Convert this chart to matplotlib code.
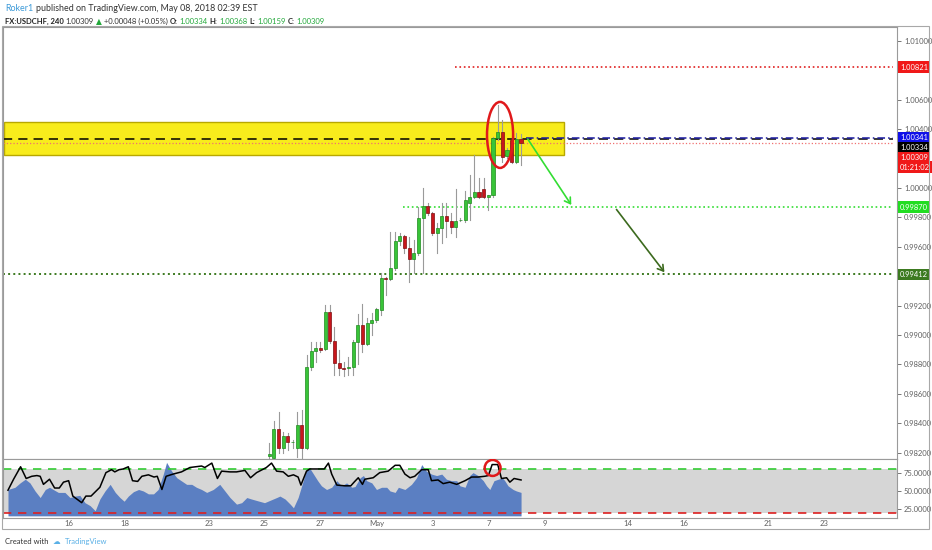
import matplotlib
matplotlib.use("Agg")
import matplotlib.pyplot as plt
from matplotlib.patches import Rectangle, Ellipse, FancyArrowPatch
from matplotlib.text import Annotation

plt.rcParams['font.family'] = ['Lato', 'DejaVu Sans']

# ---- data (USDCHF, 240 min) ----
first_bar = 56   # bars before this one sit below the visible price range
opens = [0.98175, 0.98165, 0.98358, 0.98234, 0.98315, 0.98270, 0.98234, 0.98390, 0.98234, 0.98785,
         0.98891, 0.98909, 0.98903, 0.99154, 0.98961, 0.98807, 0.98778, 0.98773, 0.98780, 0.98950,
         0.99068, 0.98939, 0.99080, 0.99102, 0.99170, 0.99386, 0.99379, 0.99454, 0.99641, 0.99671,
         0.99590, 0.99515, 0.99556, 0.99794, 0.99880, 0.99828, 0.99696, 0.99726, 0.99812, 0.99778,
         0.99737, 0.99780, 0.99782, 0.99896, 0.99941, 0.99975, 0.99991, 0.99941, 0.99952, 1.00338,
         1.00379, 1.00218, 1.00327, 1.00179, 1.00334]
highs = [0.98263, 0.98417, 0.98478, 0.98342, 0.98331, 0.98286, 0.98478, 0.98490, 0.98864, 0.98955,
         0.98955, 0.98955, 0.99204, 0.99204, 0.99052, 0.98898, 0.98819, 0.98852, 0.98966, 0.99143,
         0.99211, 0.99114, 0.99152, 0.99181, 0.99420, 0.99397, 0.99703, 0.99703, 0.99692, 0.99680,
         0.99669, 0.99646, 0.99873, 0.99998, 0.99896, 0.99839, 0.99760, 0.99896, 0.99896, 0.99828,
         0.99991, 0.99798, 0.99982, 1.00088, 1.00224, 1.00066, 1.00066, 0.99952, 1.00350, 1.00565,
         1.00463, 1.00272, 1.00349, 1.00372, 1.00368]
lows = [0.98160, 0.98150, 0.98195, 0.98195, 0.98218, 0.98229, 0.98172, 0.98150, 0.98222, 0.98762,
        0.98819, 0.98887, 0.98898, 0.98943, 0.98728, 0.98728, 0.98721, 0.98728, 0.98728, 0.98803,
        0.98887, 0.98932, 0.99000, 0.99091, 0.99136, 0.99272, 0.99374, 0.99442, 0.99612, 0.99556,
        0.99363, 0.99420, 0.99544, 0.99420, 0.99816, 0.99680, 0.99556, 0.99624, 0.99669, 0.99692,
        0.99669, 0.99776, 0.99771, 0.99782, 0.99930, 0.99930, 0.99930, 0.99850, 0.99940, 1.00327,
        1.00179, 1.00204, 1.00172, 1.00168, 1.00159]
closes = [0.98190, 0.98358, 0.98234, 0.98315, 0.98270, 0.98272, 0.98390, 0.98234, 0.98785, 0.98891,
          0.98909, 0.98898, 0.99154, 0.98961, 0.98807, 0.98773, 0.98771, 0.98780, 0.98950, 0.99068,
          0.98939, 0.99080, 0.99102, 0.99175, 0.99386, 0.99384, 0.99454, 0.99641, 0.99671, 0.99590,
          0.99515, 0.99556, 0.99794, 0.99880, 0.99828, 0.99696, 0.99726, 0.99812, 0.99778, 0.99737,
          0.99778, 0.99785, 0.99918, 0.99941, 0.99975, 0.99941, 0.99941, 0.99950, 1.00338, 1.00379,
          1.00213, 1.00259, 1.00179, 1.00331, 1.00309]

# oscillator panel: black line and blue area (vertices, bar index / value)
line_x = [0, 1.2, 2.7, 3.9, 5.1, 6.2, 6.9, 7.6, 8.9, 10, 11, 11.9, 13, 13.9, 15.8, 16.7, 17.8, 19.7,
          21, 22.2, 22.9, 23.8, 24.7, 25.8, 26.7, 27.8, 28.7, 30.1, 31.3, 32, 33, 33.9, 35.4, 37.2,
          39, 41.5, 42.2, 43.7, 44.9, 45.8, 47.6, 49, 50.8, 52, 53.3, 55.4, 56.5, 57.6, 59, 60.1,
          61.2, 62.2, 62.8, 64, 64.7, 66.5, 67.8, 68.7, 69.4, 70.5, 72.2, 73.5, 74.2, 75.1, 76, 76.5,
          78.3, 79.7, 81.5, 83, 84, 85.1, 86.2, 87.2, 88.7, 90.1, 90.8, 92.2, 93.3, 94.7, 96.2, 98,
          99.4, 100.8, 102.2, 103, 103.8, 105, 105.8, 106.9, 107.6, 108.5, 110]
line_v = [51, 66, 83, 67, 70, 71, 70, 59, 66, 54, 54, 62, 64, 43, 34, 43, 43, 55,
          75, 79, 76, 79, 80, 83, 64, 63, 70, 72, 69, 70, 52, 70, 73, 76,
          82, 84, 82, 88, 67, 77, 76, 76, 78, 68, 75, 82, 88, 77, 76, 70,
          72, 69, 58, 77, 80, 80, 80, 88, 73, 58, 57, 57, 62, 68, 59, 66,
          68, 75, 77, 85, 85, 73, 68, 70, 79, 79, 64, 65, 60, 62, 59, 64,
          69, 69, 70, 71, 86, 86, 67, 68, 62, 67, 65]
area_x = [0, 1.5, 2.6, 3.7, 4.7, 5.8, 6.9, 8, 8.9, 9.7, 10.8, 12.2, 13.3, 14.4, 15.4, 16.5, 17.6,
          18.7, 19.7, 20.8, 21.9, 23, 24, 24.9, 25.8, 26.9, 28, 29, 30.1, 31.2, 32.2, 33.3, 34,
          35.1, 36.2, 38.3, 39.4, 40.4, 41.5, 42.6, 44, 45.4, 46.5, 47.6, 49, 50.1, 51.2, 52.2,
          53.3, 55, 57.6, 58.3, 59.4, 60.5, 61.2, 62.2, 63.3, 64, 64.7, 65.5, 66.4, 67.2, 68.3,
          69.4, 70.5, 71.5, 72.6, 73.7, 74.4, 75.5, 76.2, 76.9, 78, 79, 80.1, 81.2, 81.9, 83, 83.7,
          85.1, 86.5, 87.6, 88.7, 89.7, 90.8, 91.9, 93, 94, 95.1, 96.2, 96.9, 98, 99, 99.7, 100.8,
          101.9, 102.6, 103.3, 104.2, 105.1, 106, 106.5, 107.2, 108.3, 109, 110]
area_v = [52, 55, 61, 66, 61, 50, 41, 52, 55, 52, 48, 48, 41, 43, 44, 34, 30,
          23, 39, 50, 59, 48, 41, 36, 43, 49, 52, 50, 46, 46, 52, 73, 89,
          77, 68, 59, 59, 55, 52, 48, 52, 59, 50, 41, 32, 34, 41, 39,
          37, 34, 41, 43, 39, 32, 27, 41, 64, 80, 81, 73, 64, 57, 52,
          55, 64, 57, 61, 55, 56, 68, 71, 64, 61, 52, 55, 55, 50, 48, 55,
          52, 59, 68, 86, 77, 73, 71, 73, 66, 64, 64, 57, 55, 71, 75, 71,
          64, 57, 52, 64, 66, 68, 64, 57, 52, 50, 48]

day_pos = [13, 25, 43, 55, 67, 79, 91, 103, 115, 133, 145, 163, 175]
day_labels = ['16', '18', '23', '25', '27', 'May', '3', '7', '9', '14', '16', '21', '23']

price_ticks = [1.01, 1.006, 1.004, 1.0, 0.998, 0.996, 0.992, 0.990, 0.988, 0.986, 0.984, 0.982]

zone_low, zone_high = 1.00224, 1.00447
lvl_top = 1.00821
lvl_mid = 0.99870
lvl_low = 0.99412
lvl_black = 1.00334
lvl_blue = 1.00341
last_price = 1.00309

# ---- figure ----
W, H = 932, 550
fig = plt.figure(figsize=(W / 100, H / 100), dpi=100)


def box(x0, y0, x1, y1):
    return [x0 / W, 1 - y1 / H, (x1 - x0) / W, (y1 - y0) / H]


ax = fig.add_axes(box(3, 27, 897, 458.7))
ax2 = fig.add_axes(box(3, 458.7, 897, 517.7), sharex=ax)
xmin, xmax = -1.07, 190.6
ax.set_xlim(xmin, xmax)
ax.set_ylim(0.98159, 1.01095)

# yellow supply zone
ax.add_patch(Rectangle((-0.9, zone_low), 120.0, zone_high - zone_low,
                       facecolor='#f8ec1c', edgecolor='#b8a800', lw=1, zorder=1))

# horizontal levels
ax.plot([xmin, 189.8], [lvl_black, lvl_black], color='black', lw=1.1, ls=(0, (6, 4)), zorder=2)
ax.plot([111, 189.8], [lvl_blue, lvl_blue], color='#1a1aa0', lw=1.1, ls=(0, (5, 2, 1, 2)), zorder=2)
ax.plot([xmin, 189.8], [last_price, last_price], color='#f07070', lw=0.9, ls=':', zorder=2)
ax.plot([95.8, 189.8], [lvl_top, lvl_top], color='#e02020', lw=1.2, ls=':', zorder=2)
ax.plot([84.7, 189.8], [lvl_mid, lvl_mid], color='#33dd33', lw=1.2, ls=':', zorder=2)
ax.plot([xmin, 189.8], [lvl_low, lvl_low], color='#3c7a20', lw=1.4, ls=':', zorder=2)

# candles
for i in range(len(opens)):
    x = first_bar + i
    o, h, l, c = opens[i], highs[i], lows[i], closes[i]
    ax.plot([x, x], [l, h], color='#9a9a9a', lw=0.8, zorder=3)
    up = c >= o
    fc = '#38c438' if up else '#c8161c'
    ec = '#1f8a1f' if up else '#7e0e10'
    body = max(abs(c - o), 0.00004)
    ax.add_patch(Rectangle((x - 0.34, min(o, c)), 0.68, body, facecolor=fc, edgecolor=ec,
                           lw=0.5, zorder=4))

# arrows
ax.add_patch(FancyArrowPatch((111.1, 1.00349), (121.1, 0.99869), arrowstyle='->,head_length=4,head_width=2.5',
                             color='#33dd33', lw=1.2, zorder=5))
ax.add_patch(FancyArrowPatch((130.1, 0.99869), (141.1, 0.99412), arrowstyle='->,head_length=4,head_width=2.5',
                             color='#3c6a1e', lw=1.2, zorder=5))

# red ellipse around the spike
ax.add_patch(Ellipse((105.5, 1.00361), 5.6, 0.00449, fill=False, edgecolor='#e0191b', lw=1.8, zorder=6))

# axes cosmetics
for a in (ax, ax2):
    for s in a.spines.values():
        s.set_color('#9a9a9a')
        s.set_linewidth(0.8)
    a.set_facecolor('white')
ax.yaxis.tick_right()
ax.set_yticks(price_ticks)
ax.set_yticklabels(['%.5f' % p for p in price_ticks])
ax.tick_params(axis='y', labelsize=5.5, colors='#606060', length=3, width=0.6, pad=2)
ax.tick_params(axis='x', bottom=False, labelbottom=False)


def tag(a, y, text, fc, dy=0):
    a.annotate(text, xy=(1, y), xycoords=('axes fraction', 'data'), xytext=(3, dy),
               textcoords='offset pixels', ha='left', va='center', fontsize=5.4, color='white',
               bbox=dict(boxstyle='square,pad=0.32', fc=fc, ec='none'), annotation_clip=False, zorder=10)


tag(ax, lvl_top, '1.00821', '#f01818')
tag(ax, lvl_blue, '1.00341', '#1010e8')
tag(ax, lvl_black, '1.00334', '#000000', dy=-8.7)
tag(ax, last_price, '1.00309', '#f01818', dy=-15)
tag(ax, last_price, '01:21:02', '#f01818', dy=-24.5)
tag(ax, lvl_mid, '0.99870', '#22dd22')
tag(ax, lvl_low, '0.99412', '#3c7a20')

# ---- oscillator panel ----
ax2.set_ylim(13.5, 94)
ax2.axhspan(20, 80, color='#d6d6d6', lw=0, zorder=0)
ax2.fill_between(area_x, 16, area_v, color='#5b7fc2', lw=0, zorder=1)
ax2.axhline(80, color='#33cc33', lw=1.2, ls=(0, (5, 4)), zorder=2)
ax2.axhline(20, color='#dd2020', lw=1.2, ls=(0, (5, 4)), zorder=2)
ax2.plot(line_x, line_v, color='black', lw=1.1, zorder=3)
ax2.add_patch(Ellipse((103.9, 81.4), 3.4, 21.8, fill=False, edgecolor='#e0191b', lw=1.8, zorder=4))
ax2.yaxis.tick_right()
ax2.set_yticks([75, 50, 25])
ax2.set_yticklabels(['75.0000', '50.0000', '25.0000'])
ax2.tick_params(axis='y', labelsize=5.5, colors='#606060', length=3, width=0.6, pad=2)
ax2.set_xticks(day_pos)
ax2.set_xticklabels(day_labels)
ax2.tick_params(axis='x', labelsize=5.6, colors='#606060', length=0, pad=2)

# outer frame
fig.add_artist(Rectangle((2 / W, 1 - 528.5 / H), 927 / W, 502.5 / H, transform=fig.transFigure,
                         fill=False, edgecolor='#a8a8a8', lw=0.8))


# ---- header and footer text ----
def chain(parts, x, y, size, gap=1.8):
    prev = None
    for s, col, wt in parts:
        if prev is None:
            prev = fig.text(x, y, s, fontsize=size, color=col, fontweight=wt, va='bottom', ha='left')
        else:
            t = Annotation(s, xy=(1, 0), xycoords=prev, xytext=(gap, 0), textcoords='offset points',
                           fontsize=size, color=col, fontweight=wt, va='bottom', ha='left')
            fig.add_artist(t)
            prev = t


green = '#22a83a'
chain([('Roker1', '#3c9ad8', 'normal'),
       ('published on TradingView.com, May 08, 2018 02:39 EST', '#333333', 'normal')],
      5 / W, 1 - 13 / H, 6.4)
chain([('FX:USDCHF, 240', '#222222', 'bold'),
       ('1.00309', '#333333', 'normal'),
       ('▲', green, 'normal'),
       ('+0.00048 (+0.05%)', '#333333', 'normal'),
       ('O:', '#222222', 'bold'), ('1.00334', green, 'normal'),
       ('H:', '#222222', 'bold'), ('1.00368', green, 'normal'),
       ('L:', '#222222', 'bold'), ('1.00159', green, 'normal'),
       ('C:', '#222222', 'bold'), ('1.00309', green, 'normal')],
      5 / W, 1 - 25 / H, 5.5, gap=1.4)

chain([('Created with', '#333333', 'normal'),
       ('☁', '#5ab0e6', 'normal'),
       ('TradingView', '#5ab0e6', 'normal')],
      5 / W, 1 - 545 / H, 5.5, gap=3)

fig.savefig('out.png', dpi=100)
